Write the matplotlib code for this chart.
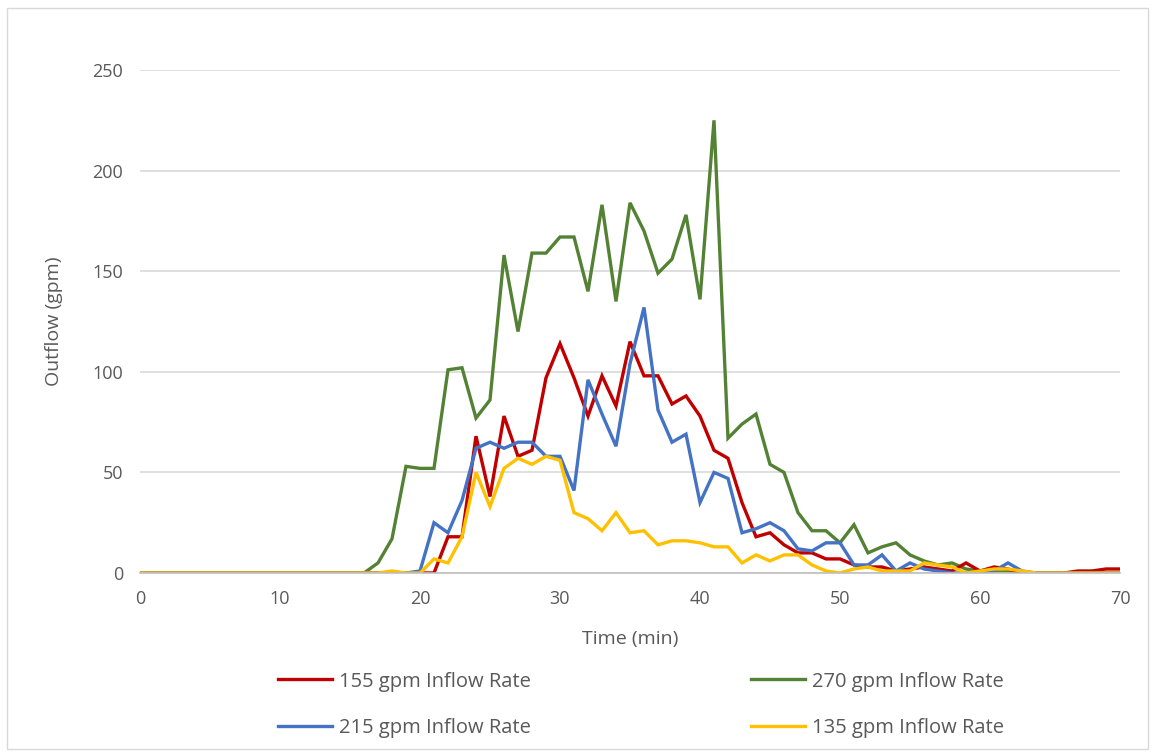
import numpy as np
import matplotlib
matplotlib.use("agg")
import matplotlib.pyplot as plt
from matplotlib.patches import Rectangle

plt.rcParams['font.family'] = ['Open Sans', 'DejaVu Sans']

# time in minutes, one reading per minute
t = np.arange(0, 71)

q155 = [0]*16 + [0, 0, 0, 0, 0, 0, 18, 18, 68, 38, 78, 58, 61, 97, 114, 97, 78, 98, 83, 115,
                 98, 98, 84, 88, 78, 61, 57, 35, 18, 20, 14, 10, 10, 7, 7, 4, 3, 3, 1, 2,
                 3, 2, 1, 5, 1, 3, 2, 0, 0, 0, 0, 1, 1, 2, 2]
q270 = [0]*16 + [0, 5, 17, 53, 52, 52, 101, 102, 77, 86, 158, 120, 159, 159, 167, 167, 140, 183, 135, 184,
                 170, 149, 156, 178, 136, 225, 67, 74, 79, 54, 50, 30, 21, 21, 15, 24, 10, 13, 15, 9,
                 6, 4, 5, 2, 1, 1, 1, 0, 0, 0, 0, 0, 0, 0, 0]
q215 = [0]*16 + [0, 0, 0, 0, 1, 25, 20, 36, 62, 65, 62, 65, 65, 58, 58, 41, 96, 79, 63, 104,
                 132, 81, 65, 69, 35, 50, 47, 20, 22, 25, 21, 12, 11, 15, 15, 4, 4, 9, 1, 5,
                 2, 1, 0, 0, 0, 1, 5, 1, 0, 0, 0, 0, 0, 0, 0]
q135 = [0]*16 + [0, 0, 1, 0, 0, 7, 5, 18, 50, 33, 52, 57, 54, 58, 56, 30, 27, 21, 30, 20,
                 21, 14, 16, 16, 15, 13, 13, 5, 9, 6, 9, 9, 4, 1, 0, 2, 3, 1, 1, 1,
                 5, 4, 3, 0, 1, 2, 2, 1, 0, 0, 0, 0, 0, 0, 0]

series = [
    ("155 gpm Inflow Rate", q155, "#C00000"),
    ("215 gpm Inflow Rate", q215, "#4472C4"),
    ("270 gpm Inflow Rate", q270, "#548235"),
    ("135 gpm Inflow Rate", q135, "#FFC000"),
]

fig = plt.figure(figsize=(11.53, 7.52), dpi=100)
ax = fig.add_axes([140/1153, 1-573/752, 980/1153, 503/752])

# draw order: green under, yellow on top like the original
lines = {}
for name, vals, col in [series[2], series[0], series[1], series[3]]:
    lines[name], = ax.plot(t, vals, color=col, lw=2.4, label=name, solid_joinstyle='miter')

ax.set_xlim(0, 70)
ax.set_ylim(0, 250)
ax.set_xticks(np.arange(0, 71, 10))
ax.set_yticks(np.arange(0, 251, 50))
ax.grid(axis='y', color='#D9D9D9', lw=1.2)
ax.set_axisbelow(True)
for s in ['top', 'right', 'left']:
    ax.spines[s].set_visible(False)
ax.spines['bottom'].set_color('#BFBFBF')
ax.spines['bottom'].set_linewidth(1.2)
ax.tick_params(length=0, labelsize=13, colors='#595959', pad=12)
ax.set_xlabel("Time (min)", fontsize=14, color='#595959', labelpad=16)
ax.set_ylabel("Outflow (gpm)", fontsize=14, color='#595959', labelpad=21)

handles = [lines[s[0]] for s in series]
fig.legend(handles, [h.get_label() for h in handles], ncol=2, frameon=False,
           loc='center', bbox_to_anchor=(0.556, 0.063), fontsize=14.5,
           labelcolor='#595959', handlelength=2.7, handletextpad=0.35,
           columnspacing=10.9, labelspacing=1.3)

fig.patches.append(Rectangle((0.006, 0.004), 0.99, 0.985, transform=fig.transFigure,
                             fill=False, edgecolor='#D9D9D9', lw=1))

fig.savefig("out.png", dpi=100)
